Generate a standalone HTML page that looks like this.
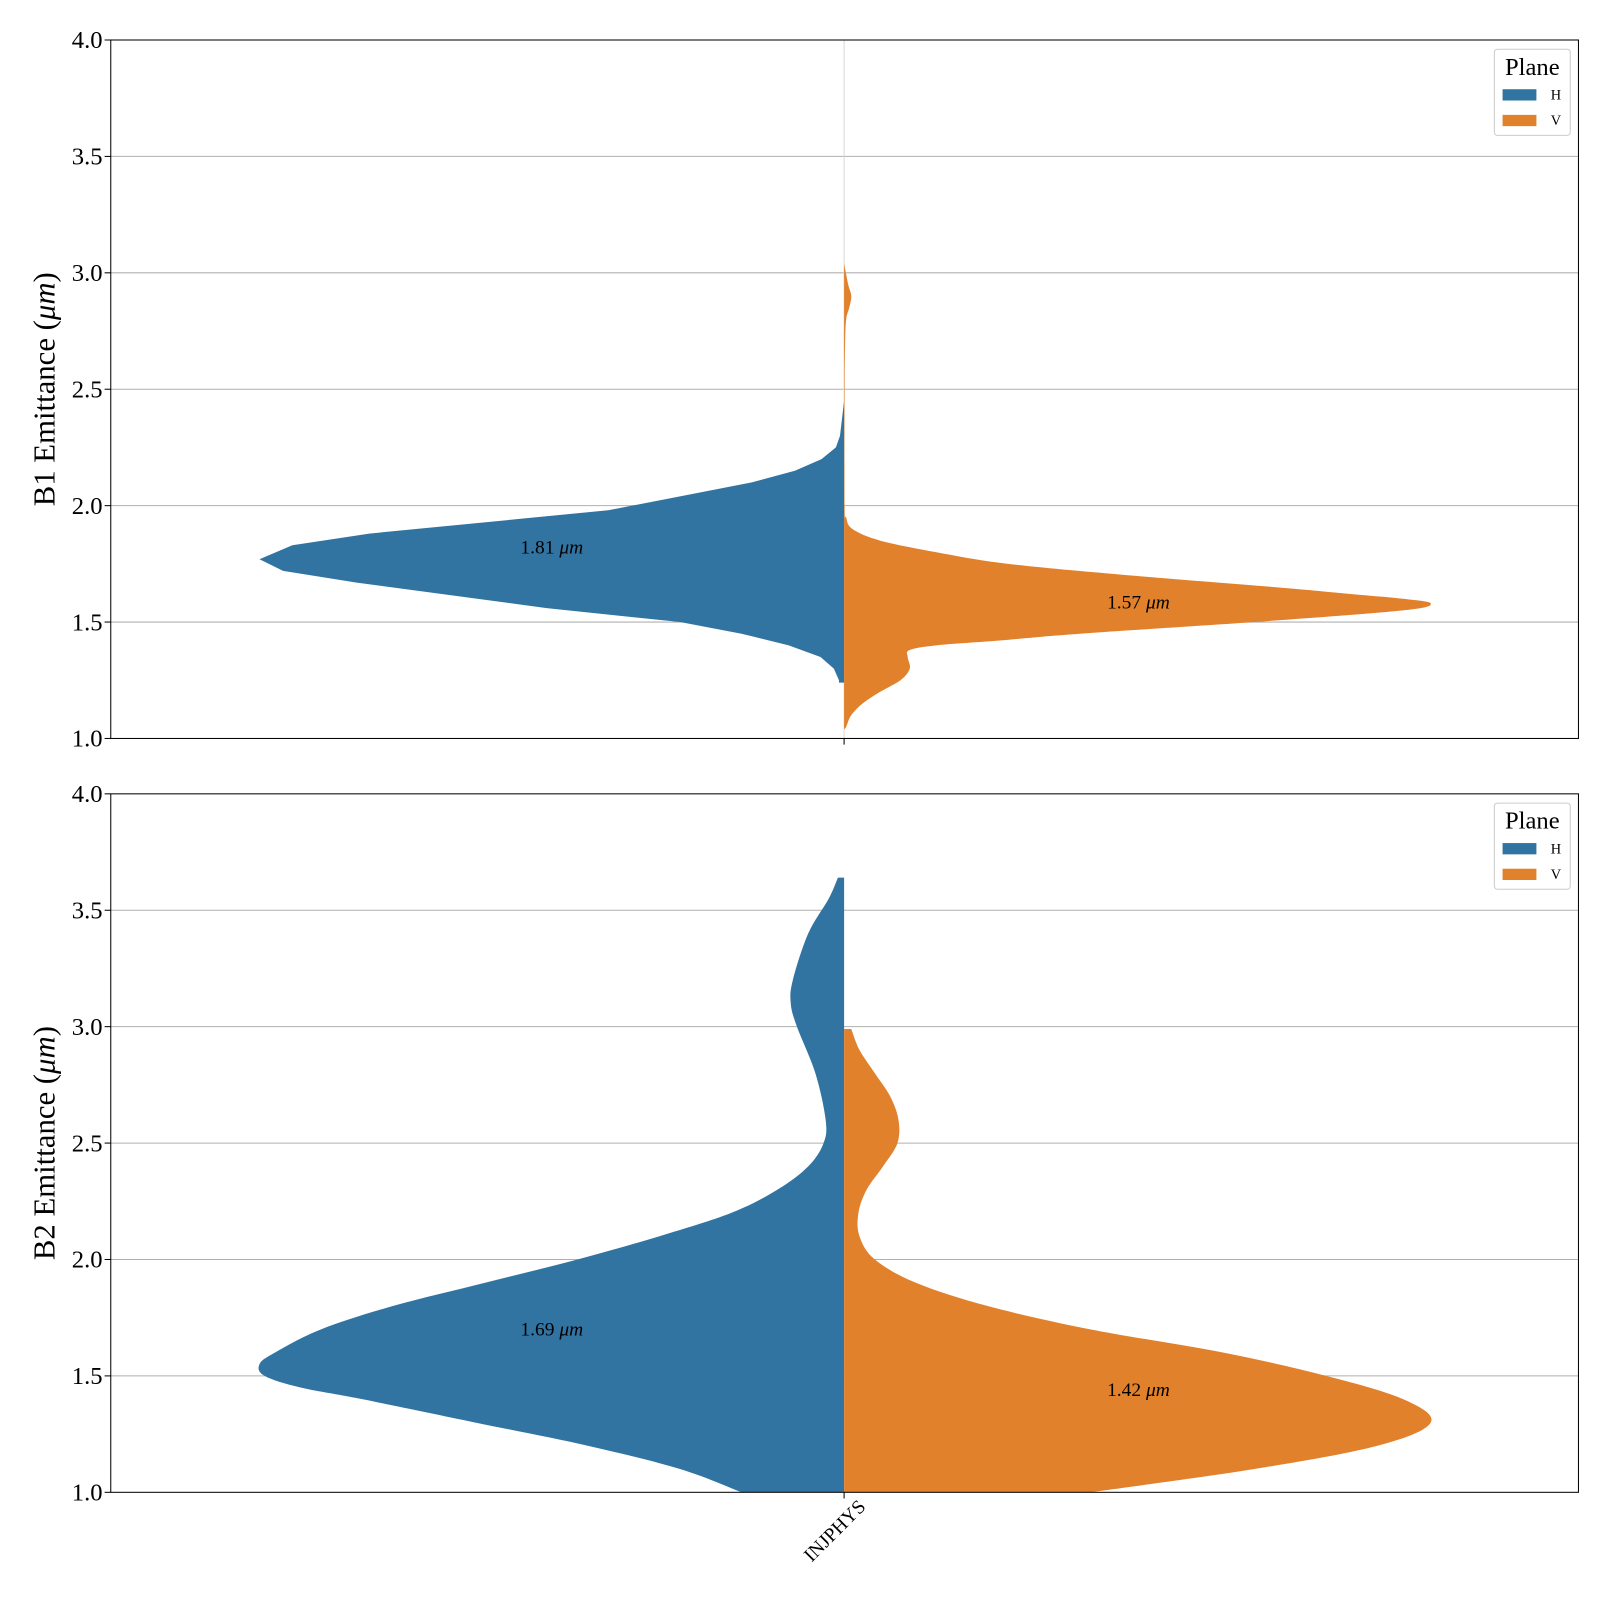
<!DOCTYPE html>
<html><head><meta charset="utf-8"><style>
body{margin:0;background:#fff}
svg text{font-family:"Liberation Serif",serif}
</style></head><body>
<svg width="1600" height="1600" xmlns="http://www.w3.org/2000/svg"><g id="c" transform="scale(1.02564)"></g></svg>
<script>
// Data: emittance (µm) and KDE density (arbitrary units)
const topHY=[2.45,2.3,2.25,2.2,2.15,2.1,2.04,1.98,1.88,1.83,1.77,1.72,1.67,1.56,1.5,1.45,1.4,1.35,1.3,1.25,1.24];
const topHD=[0,0.04,0.08,0.22,0.48,0.9,1.6,2.3,4.63,5.38,5.7,5.47,4.76,2.9,1.6,1.0,0.54,0.23,0.1,0.05,0.05];
const topVY=[3.04,2.95,2.9,2.85,2.8,2.7,2.5,2.0,1.95,1.9,1.85,1.8,1.75,1.7,1.65,1.62,1.6,1.58,1.55,1.5,1.45,1.42,1.4,1.38,1.35,1.3,1.25,1.2,1.15,1.1,1.05,1.04];
const topVD=[0,0.04,0.07,0.05,0.02,0.01,0.005,0.005,0.02,0.08,0.35,0.9,1.6,2.8,4.2,4.95,5.45,5.72,5.45,4.0,2.3,1.5,0.9,0.64,0.62,0.64,0.55,0.35,0.18,0.07,0.02,0];
const botHY=[3.64,3.55,3.4,3.2,3.1,3.0,2.8,2.6,2.5,2.4,2.3,2.2,2.1,2.0,1.9,1.8,1.7,1.6,1.55,1.5,1.45,1.4,1.3,1.2,1.1,1.0];
const botHD=[0.06,0.15,0.35,0.5,0.52,0.46,0.28,0.18,0.2,0.35,0.65,1.1,1.8,2.6,3.5,4.4,5.1,5.55,5.7,5.65,5.3,4.7,3.6,2.5,1.6,1.0];
const botVY=[2.99,2.9,2.8,2.7,2.6,2.5,2.4,2.3,2.2,2.1,2.0,1.9,1.8,1.7,1.6,1.5,1.4,1.3,1.2,1.1,1.0];
const botVD=[0.07,0.15,0.3,0.45,0.53,0.52,0.38,0.22,0.14,0.15,0.3,0.7,1.4,2.4,3.7,4.7,5.45,5.72,5.2,4.0,2.4];
const yTicks=[1.0,1.5,2.0,2.5,3.0,3.5,4.0];
const medians=[1.81,1.57,1.69,1.42];
const medianPos=[1.82,1.585,1.70,1.44];
const category=["INJPHYS"];

const svg=document.getElementById('c');
const NS="http://www.w3.org/2000/svg";
function mk(tag,attrs,parent){const e=document.createElementNS(NS,tag);for(const k in attrs)e.setAttribute(k,attrs[k]);(parent||svg).appendChild(e);return e;}
const X0=108,X1=1539,CX=823,DSCALE=100;
const panels=[{top:39,bot:720,label:"B1",hY:topHY,hD:topHD,vY:topVY,vD:topVD,m:[0,1],hs:false,vs:true},
              {top:774,bot:1455,label:"B2",hY:botHY,hD:botHD,vY:botVY,vD:botVD,m:[2,3],hs:true,vs:true}];
panels.forEach((p,pi)=>{
  const ys=v=>p.bot-(v-1)/3*(p.bot-p.top);
  const g=mk('g',{});
  
  
  yTicks.forEach(t=>{
    if(t>1&&t<4){const l=mk('line',{x1:X0,x2:X1,y1:ys(t),y2:ys(t),stroke:'#b0b0b0','stroke-width':1},g);
      }
    const tk=mk('line',{x1:X0-6,x2:X0,y1:ys(t),y2:ys(t),stroke:'#000'},g);
    
    const tx=mk('text',{x:X0-8,y:ys(t)+8,'text-anchor':'end','font-size':24},g);tx.textContent=t.toFixed(1);
    
  });
  if(pi===0){const vl=mk('line',{x1:CX,x2:CX,y1:p.top,y2:p.bot,stroke:'#d8d8d8'},g);
    }
  function violin(Y,D,side,color,name,smooth){
    const pts=Y.map((y,i)=>[CX+side*D[i]*DSCALE,ys(y)]);
    let d='M'+CX+','+pts[0][1]+' L'+pts[0][0]+','+pts[0][1];
    for(let i=0;i<pts.length-1;i++){
      if(smooth){
        const p0=pts[Math.max(0,i-1)],p1=pts[i],p2=pts[i+1],p3=pts[Math.min(pts.length-1,i+2)];
        d+=' C'+(p1[0]+(p2[0]-p0[0])/6)+','+(p1[1]+(p2[1]-p0[1])/6)+' '+(p2[0]-(p3[0]-p1[0])/6)+','+(p2[1]-(p3[1]-p1[1])/6)+' '+p2[0]+','+p2[1];
      } else d+=' L'+pts[i+1][0]+','+pts[i+1][1];
    }
    d+=' L'+CX+','+pts[pts.length-1][1]+' Z';
    const e=mk('path',{d:d,fill:color},g);
    
  }
  violin(p.hY,p.hD,-1,'#3274a1','violin-h',p.hs);
  violin(p.vY,p.vD,1,'#e1812c','violin-v',p.vs);
  const t1=mk('text',{x:538,y:ys(medianPos[p.m[0]])+6,'text-anchor':'middle','font-size':19},g);
  t1.innerHTML=medians[p.m[0]].toFixed(2)+' <tspan font-style="italic">μm</tspan>';
  
  const t2=mk('text',{x:1110,y:ys(medianPos[p.m[1]])+6,'text-anchor':'middle','font-size':19},g);
  t2.innerHTML=medians[p.m[1]].toFixed(2)+' <tspan font-style="italic">μm</tspan>';
  
  const fr=mk('rect',{x:X0,y:p.top,width:X1-X0,height:p.bot-p.top,fill:'none',stroke:'#000','stroke-width':1},g);
  
  const xt=mk('line',{x1:CX,x2:CX,y1:p.bot,y2:p.bot+6,stroke:'#000'},g);
  
  const yl=mk('text',{x:0,y:0,'text-anchor':'middle','font-size':30,transform:'translate(53,'+((p.top+p.bot)/2)+') rotate(-90)'},g);
  yl.innerHTML=p.label+' Emittance (<tspan font-style="italic">μm</tspan>)';
  
  const lg=mk('g',{},g);
  
  mk('rect',{x:1457,y:p.top+9,width:74,height:84,rx:3,fill:'#fff',stroke:'#ccc'},lg);
  const lt=mk('text',{x:1494,y:p.top+34,'text-anchor':'middle','font-size':24},lg);lt.textContent='Plane';
  
  [['H','#3274a1'],['V','#e1812c']].forEach((e,i)=>{
    const r=mk('rect',{x:1465,y:p.top+48+i*25,width:33,height:11,fill:e[1]},lg);
    
    const tt=mk('text',{x:1512,y:p.top+58+i*25,'font-size':14},lg);tt.textContent=e[0];
    
  });
});
const xl=mk('text',{x:0,y:0,'text-anchor':'end','font-size':19,transform:'translate(845,1470) rotate(-45)'});
xl.textContent=category[0];

</script>
</body></html>
